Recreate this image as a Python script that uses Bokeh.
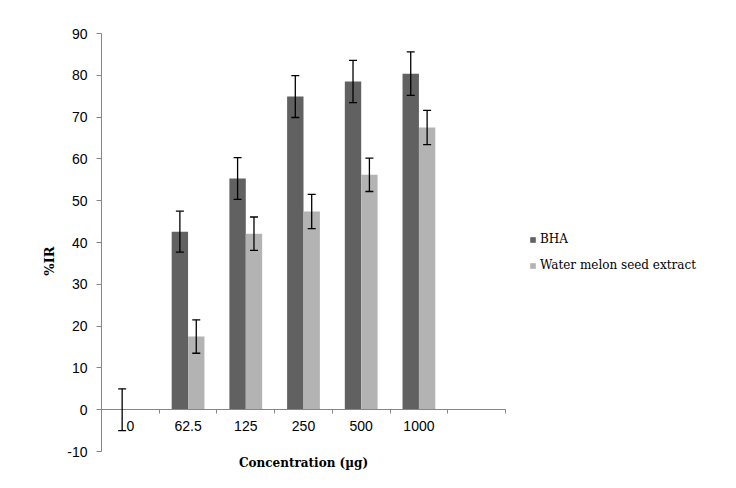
import numpy as np
from bokeh.plotting import figure
from bokeh.models import (ColumnDataSource, Whisker, TeeHead, FixedTicker, Legend,
                          LegendItem, Label)
from bokeh.transform import dodge
from bokeh.embed import file_html
from bokeh.resources import INLINE

# ---- data ----
categories = ["0", "62.5", "125", "250", "500", "1000", ""]
bha = [0.0, 42.6, 55.3, 74.9, 78.5, 80.4]
bha_err = [5.0, 4.9, 5.0, 5.0, 5.05, 5.2]
water = [0.0, 17.5, 42.1, 47.4, 56.2, 67.5]
water_err = [0.0, 4.0, 4.0, 4.1, 4.0, 4.1]
y_ticks = [-10, 0, 10, 20, 30, 40, 50, 60, 70, 80, 90]

BHA_COLOR = "#616161"
WATER_COLOR = "#b3b3b3"
AXIS_COLOR = "#868686"
SERIF = "DejaVu Serif"
SANS = "Liberation Sans"

n = len(bha)
xs = list(range(n))

src_b = ColumnDataSource(dict(x=xs, top=bha,
                              upper=[v + e for v, e in zip(bha, bha_err)],
                              lower=[v - e for v, e in zip(bha, bha_err)]))
wi = [i for i in range(n) if water_err[i] > 0]
src_w = ColumnDataSource(dict(x=xs, top=water))
src_we = ColumnDataSource(dict(x=[xs[i] for i in wi],
                               upper=[water[i] + water_err[i] for i in wi],
                               lower=[water[i] - water_err[i] for i in wi]))

# frame: left 101 .. right 736, top 33 .. bottom 488; axes bounded to the data area
px_per_cat = 404 / len(categories)
px_per_unit = 418 / (y_ticks[-1] - y_ticks[0])
x_start = -0.5
x_end = x_start + 635 / px_per_cat
y_end = y_ticks[-1]
y_start = y_ticks[0] - 37 / px_per_unit

p = figure(width=736, height=488, output_backend="svg", toolbar_location=None,
           x_range=(x_start, x_end), y_range=(y_start, y_end),
           min_border_left=101, min_border_right=0, min_border_top=33,
           min_border_bottom=0)
p.outline_line_color = None
p.grid.visible = False
p.background_fill_color = "white"

off = 0.142
bw = 0.284
r1 = p.vbar(x=dodge("x", -off), top="top", bottom=0, width=bw, source=src_b,
            fill_color=BHA_COLOR, line_color=None)
r2 = p.vbar(x=dodge("x", off), top="top", bottom=0, width=bw, source=src_w,
            fill_color=WATER_COLOR, line_color=None)

for src, o in ((src_b, -off), (src_we, off)):
    w = Whisker(source=src, base=dodge("x", o), upper="upper", lower="lower",
                level="overlay", line_color="black", line_width=1.3,
                upper_head=TeeHead(size=8, line_color="black", line_width=1.3),
                lower_head=TeeHead(size=8, line_color="black", line_width=1.3))
    p.add_layout(w)

# y axis
ya = p.yaxis[0]
ya.bounds = (y_ticks[0], y_ticks[-1])
ya.ticker = FixedTicker(ticks=y_ticks)
ya.major_label_overrides = {t: str(t) for t in y_ticks}
ya.axis_line_color = AXIS_COLOR
ya.major_tick_line_color = AXIS_COLOR
ya.major_tick_out = 5
ya.major_tick_in = 0
ya.minor_tick_line_color = None
ya.major_label_text_font = SANS
ya.major_label_text_font_size = "14px"
ya.major_label_text_color = "black"
ya.major_label_standoff = 9
ya.axis_label = "%IR"
ya.axis_label_text_font = SERIF
ya.axis_label_text_font_style = "bold"
ya.axis_label_text_font_size = "13px"
ya.axis_label_text_color = "black"
ya.axis_label_standoff = 7

# x axis at y = 0
xa = p.xaxis[0]
xa.fixed_location = 0
xa.bounds = (-0.5, len(categories) - 0.5)
xa.ticker = FixedTicker(ticks=list(range(len(categories))),
                        minor_ticks=[i + 0.5 for i in range(len(categories))])
xa.major_label_overrides = {i: c for i, c in enumerate(categories)}
xa.axis_line_color = AXIS_COLOR
xa.major_tick_line_color = None
xa.major_tick_out = 4
xa.minor_tick_line_color = AXIS_COLOR
xa.minor_tick_out = 4
xa.minor_tick_in = 0
xa.major_label_text_font = SANS
xa.major_label_text_font_size = "14px"
xa.major_label_text_color = "black"
xa.major_label_standoff = 7

p.add_layout(Label(x=(len(categories) - 1) / 2, y=y_ticks[0], y_offset=-11,
                   text="Concentration (µg)", text_align="center",
                   text_baseline="middle", text_font=SERIF, text_font_style="bold",
                   text_font_size="12px", text_color="black"))

legend = Legend(items=[LegendItem(label="BHA", renderers=[r1]),
                       LegendItem(label="Water melon seed extract", renderers=[r2])],
                location=(428, 213), orientation="vertical",
                glyph_width=7, glyph_height=7, label_height=20, spacing=6,
                label_standoff=4, padding=0, margin=0,
                border_line_color=None, background_fill_alpha=0,
                label_text_font=SERIF, label_text_font_size="12px",
                label_text_color="black")
p.add_layout(legend)

open("out.html", "w").write(file_html(p, INLINE))
